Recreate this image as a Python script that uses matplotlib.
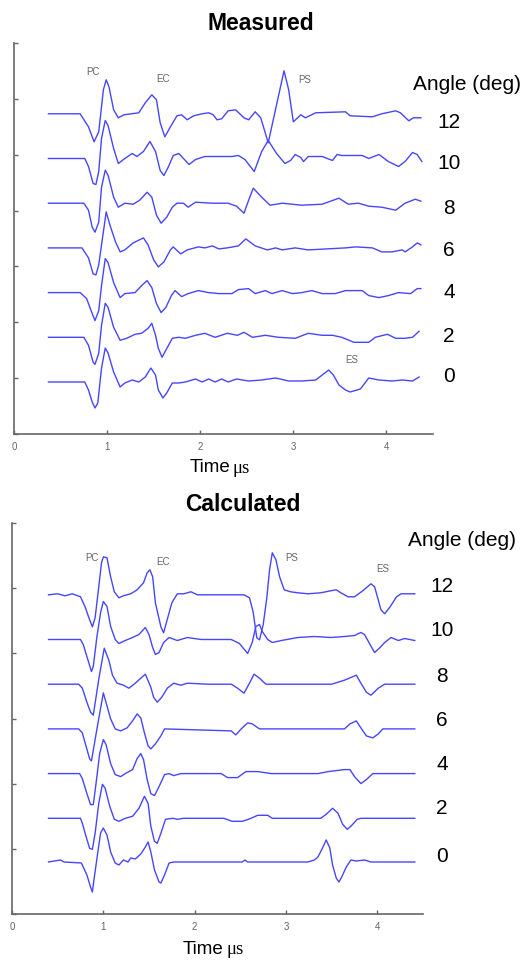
import matplotlib
matplotlib.use("Agg")
import matplotlib.pyplot as plt
import numpy as np

# ---- data: (time in us, amplitude in a.u.) ----
angles = [0, 2, 4, 6, 8, 10, 12]
time_ticks = [0, 1, 2, 3, 4]

meas_0 = [(0.37,0),(0.76,0),(0.80,-8),(0.84,-20),(0.87,-26),(0.90,-21),(0.94,14),(0.98,34),(1.01,29),
          (1.07,10),(1.14,-5),(1.19,-1),(1.27,2),(1.34,0),(1.41,5),(1.47,14),(1.52,7),(1.55,-8),(1.60,-16),
          (1.64,-11),(1.70,-1),(1.77,-1),(1.84,0),(1.95,3),(2.02,0),(2.09,3),(2.16,0),(2.23,3),(2.30,0),
          (2.39,3),(2.52,1),(2.66,2),(2.81,4),(2.95,1),(3.09,1),(3.24,2),(3.31,7),(3.38,12),(3.43,7),
          (3.49,-3),(3.56,-8),(3.61,-10),(3.72,-7),(3.81,4),(3.92,2),(4.06,1),(4.17,2),(4.28,1),(4.35,5)]
meas_2 = [(0.37,0),(0.75,0),(0.80,-8),(0.85,-25),(0.87,-27),(0.91,-16),(0.94,12),(0.98,34),(1.01,30),
          (1.07,10),(1.14,-3),(1.21,-1),(1.30,3),(1.37,4),(1.44,9),(1.48,14),(1.52,2),(1.55,-11),(1.59,-20),
          (1.63,-13),(1.70,-1),(1.77,0),(1.84,-1),(1.95,2),(2.05,4),(2.16,0),(2.29,4),(2.40,2),(2.47,5),
          (2.56,0),(2.70,2),(2.84,0),(3.02,-1),(3.16,4),(3.31,2),(3.42,2),(3.52,0),(3.65,-5),(3.81,-5),
          (3.88,0),(4.01,3),(4.10,-1),(4.20,-1),(4.28,0),(4.35,6)]
meas_4 = [(0.37,0),(0.71,0),(0.78,-6),(0.84,-21),(0.87,-28),(0.91,-18),(0.94,7),(0.98,34),(1.01,30),
          (1.07,10),(1.14,-5),(1.19,-1),(1.30,0),(1.37,7),(1.43,12),(1.48,5),(1.53,-11),(1.58,-20),
          (1.63,-15),(1.69,-3),(1.73,2),(1.80,-4),(1.87,-1),(1.98,2),(2.09,0),(2.20,-1),(2.34,-1),(2.41,3),
          (2.52,4),(2.59,-1),(2.70,2),(2.77,-1),(2.88,2),(2.99,-1),(3.09,0),(3.20,2),(3.31,-1),(3.45,-1),
          (3.56,2),(3.74,2),(3.81,-3),(3.92,-5),(4.02,-3),(4.13,0),(4.26,-1),(4.33,4),(4.37,4)]
meas_6 = [(0.37,0),(0.73,0),(0.80,-10),(0.85,-26),(0.88,-27),(0.91,-17),(0.99,36),(1.03,23),(1.09,6),
          (1.14,-4),(1.19,-2),(1.28,5),(1.39,10),(1.44,3),(1.50,-12),(1.55,-19),(1.61,-14),(1.68,-2),
          (1.71,1),(1.79,-6),(1.86,-2),(1.98,1),(2.05,0),(2.13,2),(2.20,-1),(2.29,0),(2.41,2),(2.49,9),
          (2.59,2),(2.72,-2),(2.81,0),(2.88,-2),(3.02,0),(3.16,-2),(3.56,0),(3.67,1),(3.85,0),(3.95,-4),
          (4.06,-4),(4.17,-2),(4.20,-4),(4.28,1),(4.33,5),(4.37,3)]
meas_8 = [(0.37,0),(0.75,0),(0.80,-7),(0.84,-24),(0.87,-29),(0.91,-19),(0.94,16),(0.98,33),(1.01,28),
          (1.07,6),(1.12,-4),(1.19,0),(1.28,-1),(1.35,3),(1.43,11),(1.48,6),(1.53,-12),(1.58,-20),
          (1.64,-14),(1.70,-4),(1.75,0),(1.82,0),(1.87,-4),(1.95,1),(2.13,0),(2.30,0),(2.39,-3),(2.47,-10),
          (2.52,3),(2.57,15),(2.66,6),(2.75,-2),(2.88,0),(3.09,-2),(3.31,-1),(3.49,5),(3.59,-1),(3.70,0),
          (3.81,-3),(3.95,-4),(4.10,-7),(4.20,0),(4.31,4),(4.37,2)]
meas_10 = [(0.37,0),(0.76,0),(0.80,-8),(0.85,-25),(0.88,-26),(0.91,-13),(0.94,20),(0.98,38),(1.01,33),
           (1.07,10),(1.12,-5),(1.19,0),(1.27,5),(1.32,2),(1.39,7),(1.46,17),(1.52,7),(1.57,-12),(1.61,-17),
           (1.66,-8),(1.71,3),(1.77,5),(1.82,0),(1.88,-6),(1.95,-1),(2.05,2),(2.34,2),(2.41,3),(2.48,-1),
           (2.58,-13),(2.66,7),(2.73,18),(2.82,5),(2.91,-5),(2.97,-2),(3.02,4),(3.08,1),(3.11,-3),(3.16,2),
           (3.31,2),(3.42,-2),(3.47,4),(3.52,3),(3.74,3),(3.81,0),(3.92,4),(4.02,-3),(4.13,-8),(4.20,-3),
           (4.28,6),(4.33,4),(4.38,-3)]
meas_12 = [(0.37,0),(0.71,0),(0.80,-13),(0.86,-28),(0.91,-18),(0.96,24),(0.99,34),(1.02,27),(1.07,4),
           (1.12,-4),(1.18,-1),(1.34,1),(1.41,11),(1.48,19),(1.53,14),(1.57,-9),(1.62,-23),(1.68,-13),
           (1.75,-2),(1.80,-1),(1.86,-6),(1.93,-2),(2.02,0),(2.09,1),(2.14,-1),(2.18,-6),(2.23,-5),(2.30,3),
           (2.38,4),(2.47,-4),(2.52,-6),(2.59,2),(2.65,-4),(2.73,-29),(2.90,43),(2.95,24),(3.00,-8),
           (3.08,-1),(3.13,-4),(3.24,1),(3.56,2),(3.61,-2),(3.85,-3),(3.95,0),(4.10,3),(4.15,1),(4.24,-7),
           (4.29,-4),(4.37,-4)]

calc_0 = [(0.40,1),(0.53,3),(0.57,1),(0.76,0),(0.82,-12),(0.86,-24),(0.88,-29),(0.90,-15),(0.94,11),
          (0.97,30),(1.00,35),(1.04,28),(1.08,11),(1.13,0),(1.17,-2),(1.22,3),(1.27,1),(1.30,5),(1.35,4),
          (1.41,9),(1.46,16),(1.49,21),(1.52,11),(1.56,-7),(1.61,-19),(1.63,-20),(1.67,-12),(1.72,0),
          (1.77,1),(1.85,1),(1.99,1),(2.52,1),(2.55,3),(2.58,1),(3.24,1),(3.31,3),(3.35,6),(3.40,15),
          (3.44,23),(3.48,15),(3.51,-2),(3.55,-15),(3.58,-19),(3.61,-14),(3.66,-4),(3.71,3),(3.77,2),
          (3.86,3),(3.93,1),(4.41,1)]
calc_2 = [(0.40,0),(0.75,0),(0.77,-5),(0.81,-18),(0.85,-30),(0.88,-31),(0.91,-15),(0.95,15),(0.99,34),
          (1.02,30),(1.07,12),(1.12,-1),(1.17,-3),(1.24,0),(1.32,2),(1.39,10),(1.45,22),(1.49,15),(1.52,-8),
          (1.56,-23),(1.59,-25),(1.63,-15),(1.68,-1),(1.76,0),(1.81,-1),(1.88,0),(2.32,0),(2.41,-3),
          (2.52,-3),(2.59,-1),(2.69,3),(2.80,3),(2.85,0),(3.38,0),(3.44,4),(3.51,10),(3.57,5),(3.62,-6),
          (3.67,-11),(3.71,-8),(3.78,-1),(3.82,0),(4.41,0)]
calc_4 = [(0.40,0),(0.74,0),(0.77,-5),(0.82,-20),(0.86,-31),(0.89,-31),(0.92,-10),(0.96,20),(1.00,34),
          (1.03,29),(1.08,10),(1.13,-1),(1.19,-3),(1.24,0),(1.32,4),(1.37,15),(1.41,20),(1.44,14),(1.48,-6),
          (1.52,-20),(1.56,-22),(1.61,-13),(1.67,-1),(1.72,0),(1.77,-2),(1.85,0),(2.29,0),(2.36,-4),
          (2.47,-4),(2.56,2),(2.69,2),(2.84,0),(3.35,0),(3.46,2),(3.64,4),(3.70,4),(3.75,-3),(3.82,-10),
          (3.88,-6),(3.95,0),(4.41,0)]
calc_6 = [(0.40,0),(0.73,0),(0.77,-4),(0.81,-17),(0.85,-30),(0.87,-32),(0.93,0),(1.00,36),(1.04,23),
          (1.08,10),(1.13,0),(1.19,-2),(1.26,1),(1.32,8),(1.37,15),(1.41,11),(1.45,-4),(1.49,-17),
          (1.52,-20),(1.57,-15),(1.63,-7),(1.67,0),(2.40,-2),(2.45,-6),(2.51,0),(2.58,6),(2.63,5),(2.71,0),
          (3.64,0),(3.70,5),(3.77,8),(3.82,1),(3.88,-7),(3.95,-9),(4.01,-5),(4.06,0),(4.41,0)]
calc_8 = [(0.40,0),(0.73,0),(0.77,-4),(0.82,-18),(0.86,-28),(0.89,-31),(0.95,5),(1.01,36),(1.06,24),
          (1.10,9),(1.15,1),(1.22,-1),(1.28,-4),(1.35,1),(1.41,6),(1.46,10),(1.52,-3),(1.55,-13),(1.59,-18),
          (1.64,-13),(1.70,-4),(1.77,1),(1.85,-1),(1.92,1),(2.14,0),(2.40,0),(2.47,-4),(2.54,-9),(2.60,1),
          (2.65,10),(2.71,6),(2.78,0),(3.24,0),(3.50,0),(3.64,4),(3.77,9),(3.82,1),(3.88,-8),(3.93,-11),
          (4.01,-4),(4.08,0),(4.41,0)]
calc_10 = [(0.40,0),(0.75,0),(0.78,-5),(0.83,-20),(0.87,-32),(0.89,-27),(0.93,3),(0.97,27),(1.00,38),
           (1.04,33),(1.08,13),(1.13,0),(1.17,-4),(1.24,-1),(1.32,2),(1.39,5),(1.46,12),(1.50,5),(1.54,-8),
           (1.57,-15),(1.61,-13),(1.66,-3),(1.72,2),(1.81,-1),(1.92,2),(2.07,0),(2.40,0),(2.49,-4),
           (2.58,-14),(2.63,-3),(2.67,13),(2.71,15),(2.74,8),(2.80,0),(2.85,-3),(2.95,-1),(3.13,2),(3.31,3),
           (3.49,2),(3.64,3),(3.75,4),(3.82,7),(3.86,5),(3.92,-5),(3.97,-13),(4.03,-8),(4.08,-3),(4.15,2),
           (4.23,-1),(4.30,1),(4.41,-1)]
calc_12 = [(0.40,0),(0.50,1),(0.58,-1),(0.66,1),(0.75,-2),(0.80,-12),(0.85,-25),(0.88,-32),(0.91,-23),
           (0.95,8),(0.98,32),(1.00,38),(1.04,37),(1.08,18),(1.12,3),(1.17,-3),(1.22,-1),(1.30,1),(1.37,5),
           (1.44,12),(1.48,22),(1.51,25),(1.54,18),(1.57,-8),(1.63,-32),(1.66,-38),(1.69,-28),(1.75,-8),
           (1.81,1),(1.88,1),(1.96,3),(2.03,0),(2.21,0),(2.54,0),(2.60,-3),(2.64,-17),(2.68,-43),(2.71,-45),
           (2.75,-30),(2.79,-3),(2.82,25),(2.85,42),(2.89,35),(2.93,18),(2.98,5),(3.05,3),(3.13,2),(3.24,1),
           (3.38,2),(3.49,4),(3.55,5),(3.60,2),(3.68,-2),(3.75,-2),(3.84,4),(3.93,11),(3.97,8),(4.01,-5),
           (4.04,-15),(4.08,-19),(4.14,-12),(4.21,-2),(4.26,1),(4.41,1)]

measured = [meas_0, meas_2, meas_4, meas_6, meas_8, meas_10, meas_12]
calculated = [calc_0, calc_2, calc_4, calc_6, calc_8, calc_10, calc_12]

W, H = 523, 961
spacing = 44.7          # a.u. between stacked traces
line_col = '#4646ff'
grey = '#666666'

fig = plt.figure(figsize=(W / 100, H / 100), dpi=100)
plt.rcParams['font.family'] = ['Liberation Sans', 'DejaVu Sans']


def px(x, y):
    return x / W, 1 - y / H


def panel(rect, traces, ylo, yhi, nticks):
    ax = fig.add_axes(rect)
    for k, pts in enumerate(traces):
        t, a = zip(*pts)
        ax.plot(t, np.array(a) + k * spacing, color=line_col, lw=1.0)
    ax.set_xlim(0, 4.5)
    ax.set_ylim(ylo, yhi)
    ax.set_xticks(time_ticks)
    ax.set_xticklabels([str(v) for v in time_ticks], color=grey, fontsize=7)
    ax.set_yticks(np.linspace(ylo, yhi, nticks))
    ax.set_yticklabels([])
    ax.tick_params(direction='in', length=3, width=1, color=grey)
    ax.tick_params(axis='x', pad=6)
    for s in ['top', 'right']:
        ax.spines[s].set_visible(False)
    for s in ['left', 'bottom']:
        ax.spines[s].set_color(grey)
        ax.spines[s].set_linewidth(1.2)
    ax.patch.set_alpha(0)
    return ax


# axes rects from pixel bounds
ax1 = panel([14 / W, 1 - 434 / H, (433 - 14) / W, (434 - 43) / H], measured, -52, 339, 8)
ax2 = panel([12 / W, 1 - 914 / H, (423 - 12) / W, (914 - 523) / H], calculated, -51, 340, 7)

# titles
fig.text(*px(261, 24), 'Measured', ha='center', va='center', fontsize=16.5, fontweight='bold')
fig.text(*px(243, 505), 'Calculated', ha='center', va='center', fontsize=16.5, fontweight='bold')

# axis labels "Time us" (us part in serif)
for xr, yc in [(230, 467), (223, 949)]:
    fig.text(*px(xr, yc), 'Time', ha='right', va='center', fontsize=13.5)
    fig.text(*px(xr + 3, yc + 1), 'μs', ha='left', va='center', fontsize=13.5,
             family=['Liberation Serif', 'DejaVu Serif'])

# angle legend
fig.text(*px(467, 84), 'Angle (deg)', ha='center', va='center', fontsize=15)
fig.text(*px(462, 541), 'Angle (deg)', ha='center', va='center', fontsize=15)
top_lab_y = [377, 336, 293, 251, 209, 164, 122]
bot_lab_y = [856, 809, 765, 720, 676, 630, 586]
for ang, y in zip(angles, top_lab_y):
    fig.text(*px(449, y), str(ang), ha='center', va='center', fontsize=15)
for ang, y in zip(angles, bot_lab_y):
    fig.text(*px(442, y), str(ang), ha='center', va='center', fontsize=15)

# wave labels
wave_labels = [('PC', 93, 72), ('EC', 163, 79), ('PS', 305, 80), ('ES', 352, 360),
               ('PC', 92, 558), ('EC', 163, 562), ('PS', 292, 558), ('ES', 383, 569)]
for name, x, y in wave_labels:
    fig.text(*px(x, y), name, ha='center', va='center', fontsize=7, color=grey)

fig.savefig('out.png', dpi=100)
